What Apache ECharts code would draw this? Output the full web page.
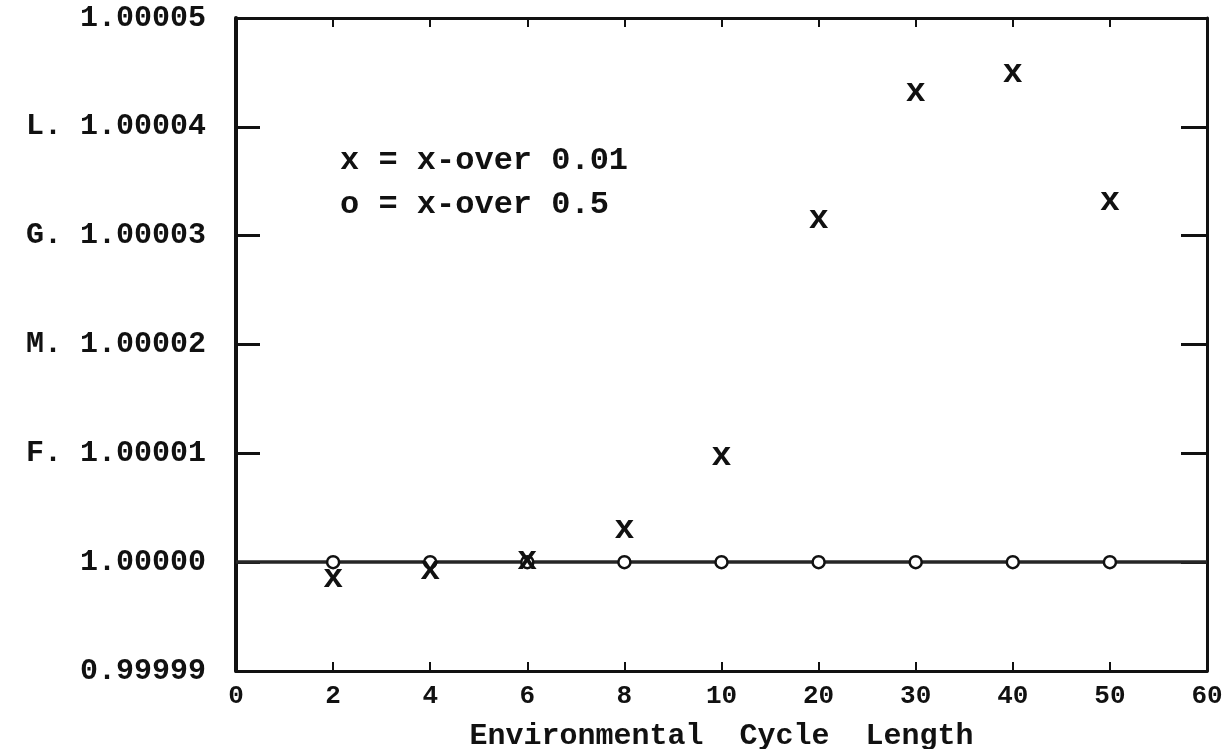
<!DOCTYPE html>
<html>
  <head>
    <meta charset="utf-8" />
    <title>ECharts</title>
    <script src="https://cdn.jsdelivr.net/npm/echarts/dist/echarts.min.js"></script>
    <style>
      html, body { margin: 0; padding: 0; background: #fff; }
    </style>
  </head>
  <body>
    <div id="main" style="width: 1222px; height: 749px;"></div>
    <script type="text/javascript">
      // x positions are evenly spaced categories
      var xLabels = ['0', '2', '4', '6', '8', '10', '20', '30', '40', '50', '60'];
      var yLabels = ['0.99999', '1.00000', 'F. 1.00001', 'M. 1.00002', 'G. 1.00003', 'L. 1.00004', '1.00005'];
      var cycleIdx = [1, 2, 3, 4, 5, 6, 7, 8, 9];
      var xover001 = [0.9999983, 0.9999991, 1.0000000, 1.0000028, 1.0000095, 1.0000313, 1.0000430, 1.0000447, 1.0000330];
      var xover05 = [1.0, 1.0, 1.0, 1.0, 1.0, 1.0, 1.0, 1.0, 1.0];

      var font = 'Liberation Mono';
      var myChart = echarts.init(document.getElementById('main'));

      function pairs(vals) {
        return cycleIdx.map(function (x, i) { return [x, vals[i]]; });
      }

      var yMin = 0.99999, yStep = 0.00001;
      var ink = '#111';

      var option = {
        backgroundColor: '#fff',
        animation: false,
        grid: { left: 236, right: 15, top: 18, bottom: 78, outerBoundsMode: 'none' },
        xAxis: [
          {
            type: 'value', min: 0, max: 10, interval: 1, position: 'bottom',
            axisLine: { onZero: false, lineStyle: { color: ink, width: 3 } },
            axisTick: { inside: true, length: 9, lineStyle: { color: ink, width: 2 } },
            splitLine: { show: false },
            axisLabel: {
              color: ink, fontFamily: font, fontWeight: 'bold', fontSize: 26, margin: 12,
              formatter: function (v) { return xLabels[Math.round(v)]; }
            },
            name: 'Environmental  Cycle  Length',
            nameLocation: 'middle', nameGap: 50,
            nameTextStyle: { color: ink, fontFamily: font, fontWeight: 'bold', fontSize: 30 }
          },
          {
            type: 'value', min: 0, max: 10, interval: 1, position: 'top',
            axisLine: { show: true, onZero: false, lineStyle: { color: ink, width: 3 } },
            axisTick: { inside: true, length: 9, lineStyle: { color: ink, width: 2 } },
            axisLabel: { show: false }, splitLine: { show: false }
          }
        ],
        yAxis: [
          {
            type: 'value', min: yMin, max: 1.00005, interval: yStep, position: 'left',
            axisLine: { show: true, onZero: false, lineStyle: { color: ink, width: 4 } },
            axisTick: { inside: true, length: 24, lineStyle: { color: ink, width: 3 } },
            splitLine: { show: false },
            axisLabel: {
              color: ink, fontFamily: font, fontWeight: 'bold', fontSize: 30, margin: 30,
              formatter: function (v) { return yLabels[Math.round((v - yMin) / yStep)]; }
            }
          },
          {
            type: 'value', min: yMin, max: 1.00005, interval: yStep, position: 'right',
            axisLine: { show: true, onZero: false, lineStyle: { color: ink, width: 3 } },
            axisTick: { inside: true, length: 26, lineStyle: { color: ink, width: 3 } },
            axisLabel: { show: false }, splitLine: { show: false }
          }
        ],
        series: [
          {
            name: 'x-over 0.5',
            type: 'scatter',
            data: pairs(xover05),
            symbol: 'circle',
            symbolSize: 12,
            itemStyle: { color: '#fff', borderColor: ink, borderWidth: 2.5, opacity: 1 },
            z: 3,
            markLine: {
              silent: true,
              symbol: 'none',
              label: { show: false },
              lineStyle: { color: '#262626', width: 3.5, type: 'solid' },
              data: [{ yAxis: 1.0 }],
              z: 1
            }
          },
          {
            name: 'x-over 0.01',
            type: 'scatter',
            data: pairs(xover001),
            symbolSize: 1,
            itemStyle: { color: 'transparent', opacity: 1 },
            z: 4,
            label: {
              show: true, position: 'inside', formatter: 'x', offset: [0, -2],
              color: ink, fontFamily: font, fontWeight: 'bold', fontSize: 34
            }
          }
        ],
        graphic: [
          {
            type: 'text', left: 340, top: 145,
            style: { text: 'x = x-over 0.01', fill: ink, font: 'bold 32px "Liberation Mono"' }
          },
          {
            type: 'text', left: 340, top: 189,
            style: { text: 'o = x-over 0.5', fill: ink, font: 'bold 32px "Liberation Mono"' }
          }
        ]
      };

      myChart.setOption(option);
    </script>
  </body>
</html>
